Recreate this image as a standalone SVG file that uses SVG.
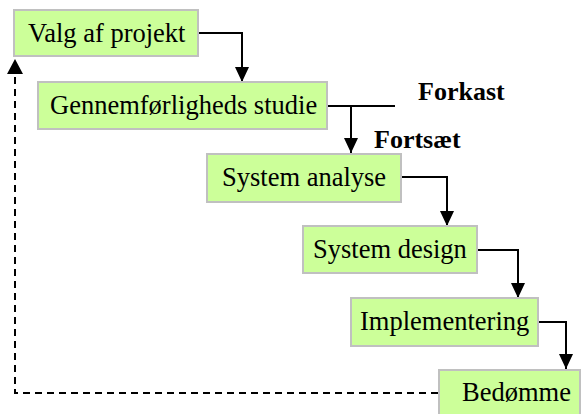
<svg xmlns="http://www.w3.org/2000/svg" width="582" height="414" viewBox="0 0 582 414">
  <style>
    .box { fill: #ccff99; stroke: #c0c0c0; stroke-width: 2; }
    .lbl { font-family: "Liberation Serif", "Times New Roman", serif; font-size: 26.5px; fill: #000; }
    .bold { font-weight: bold; font-size: 26px; }
    .wire { fill: none; stroke: #000; stroke-width: 2; }
    .dash { fill: none; stroke: #000; stroke-width: 2; stroke-dasharray: 7 5; }
  </style>
  <defs>
    <!-- solid triangular head, drawn along +x and turned with the line -->
    <marker id="arrow" viewBox="0 0 15 14" refX="15" refY="7" markerWidth="15" markerHeight="14" markerUnits="userSpaceOnUse" orient="auto">
      <path d="M0,0 L15,7 L0,14 Z" fill="#000"/>
    </marker>
  </defs>

  <!-- connectors -->
  <g id="connectors">
    <path class="wire" d="M198,33 H242 V82" marker-end="url(#arrow)"/>
    <path class="wire" d="M327,106 H395"/>
    <path class="wire" d="M351,106 V153" marker-end="url(#arrow)"/>
    <path class="wire" d="M401,177 H447 V226" marker-end="url(#arrow)"/>
    <path class="wire" d="M477,250 H518 V298" marker-end="url(#arrow)"/>
    <path class="wire" d="M538,322 H566 V369" marker-end="url(#arrow)"/>
    <path class="dash" d="M438,393 H15 V74"/>
    <path d="M15,59 L23,74 L7,74 Z" fill="#000"/>
  </g>

  <!-- branch labels -->
  <text class="lbl bold" x="418" y="100">Forkast</text>
  <text class="lbl bold" x="374" y="148">Fortsæt</text>

  <!-- process steps -->
  <g id="valg">
    <rect class="box" x="14" y="10" width="184" height="46"/>
    <text class="lbl" x="28" y="42">Valg af projekt</text>
  </g>
  <g id="gennemfoerlighed">
    <rect class="box" x="38" y="82" width="289" height="47"/>
    <text class="lbl" x="50" y="114">Gennemførligheds studie</text>
  </g>
  <g id="analyse">
    <rect class="box" x="207" y="154" width="194" height="48"/>
    <text class="lbl" x="222" y="186">System analyse</text>
  </g>
  <g id="design">
    <rect class="box" x="303" y="226" width="174" height="47"/>
    <text class="lbl" x="313" y="258">System design</text>
  </g>
  <g id="implementering">
    <rect class="box" x="351" y="298" width="187" height="48"/>
    <text class="lbl" x="360" y="330">Implementering</text>
  </g>
  <g id="bedoemme">
    <rect class="box" x="439" y="370" width="141" height="46"/>
    <text class="lbl" x="462" y="401">Bedømme</text>
  </g>
</svg>
